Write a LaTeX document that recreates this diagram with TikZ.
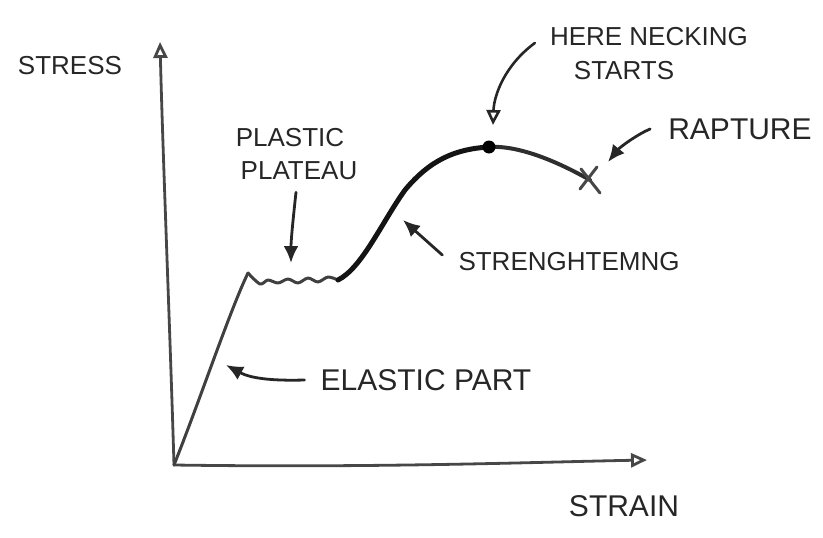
\documentclass[tikz,border=0pt]{standalone}
\usepackage{fontspec}
\setmainfont{Liberation Sans}
\usetikzlibrary{arrows.meta}
\tikzset{
  pencil/.style={line width=2.8pt, draw=black!72, line cap=round, line join=round},
  curvethin/.style={line width=3pt, draw=black!75, line cap=round, line join=round},
  curvethick/.style={line width=5pt, draw=black!92, line cap=round, line join=round},
  note/.style={line width=2.8pt, draw=black!85, line cap=round, -{Latex[length=17pt,width=15pt]}},
  noteopen/.style={line width=2.6pt, draw=black!85, line cap=round, -{Triangle[open,length=15pt,width=14pt]}},
  axisarrow/.style={pencil, -{Triangle[open,length=16pt,width=14pt]}},
  lbl/.style={inner sep=0pt, text=black!85, font=\fontsize{26}{28}\selectfont},
  lblbig/.style={lbl, font=\fontsize{30}{32}\selectfont},
}
\begin{document}
\begin{tikzpicture}[x=1pt,y=-1pt]
    \useasboundingbox (0,0) rectangle (823,538);
    % axes
    \coordinate (O) at (174,465);
    \coordinate (ytop) at (160,42);
    \coordinate (xend) at (647,460);
    \draw[axisarrow] (O) .. controls (170,330) and (163,160) .. (ytop);
    \draw[axisarrow] (O) .. controls (380,468) and (540,462) .. (xend);
    % stress-strain curve
    \coordinate (yield) at (248,273);
    \coordinate (endplat) at (338,280);
    \coordinate (neck) at (489,147);
    \coordinate (rupt) at (590,180);
    \draw[curvethin] (O) .. controls (200,400) and (230,310) .. (yield);
    \draw[curvethin] plot[smooth] coordinates {(yield) (260,284) (268,280) (278,283) (288,279)
        (298,283) (308,278) (318,282) (328,277) (endplat)};
    \draw[curvethick] (endplat) .. controls (362,268) and (382,222) .. (405,190)
        .. controls (430,160) and (455,149) .. (neck);
    \draw[line width=4pt, draw=black!82, line cap=round] (neck) .. controls (520,145) and (560,163) .. (rupt);
    \fill[black] (neck) circle (6.5pt);
    \draw[pencil, line width=3pt] (581,169) -- (600,193);
    \draw[pencil, line width=3pt] (580,189) -- (597,167);
    % labels
    \node[lbl] (stress) at (70,66) {STRESS};
    \node[lblbig] (strain) at (624,506) {STRAIN};
    \node[lbl] (plastic) at (290,138) {PLASTIC};
    \node[lbl] (plateau) at (299,171) {PLATEAU};
    \node[lbl] (here) at (649,37) {HERE NECKING};
    \node[lbl] (starts) at (624,71) {STARTS};
    \node[lblbig] (rapture) at (740,129) {RAPTURE};
    \node[lbl] (streng) at (569,262) {STRENGHTEMNG};
    \node[lblbig] (elastic) at (426,380) {ELASTIC PART};
    % pointers
    \coordinate (platip) at (291,263);
    \coordinate (necktip) at (493,125);
    \coordinate (ruptip) at (608,162);
    \coordinate (strtip) at (403,220);
    \coordinate (elatip) at (226,365);
    \draw[note] ([shift={(-3,12)}]plateau.south) .. controls (293,220) and (291,240) .. (platip);
    \draw[noteopen] ([shift={(-15,6)}]here.west) .. controls (505,65) and (494,95) .. (necktip);
    \draw[note] ([xshift=-18pt]rapture.west) .. controls (638,134) and (620,147) .. (ruptip);
    \draw[note] ([shift={(-16,-7)}]streng.west) -- (strtip);
    \draw[note] ([xshift=-16pt]elastic.west) .. controls (270,381) and (250,378) .. (elatip);
\end{tikzpicture}
\end{document}
